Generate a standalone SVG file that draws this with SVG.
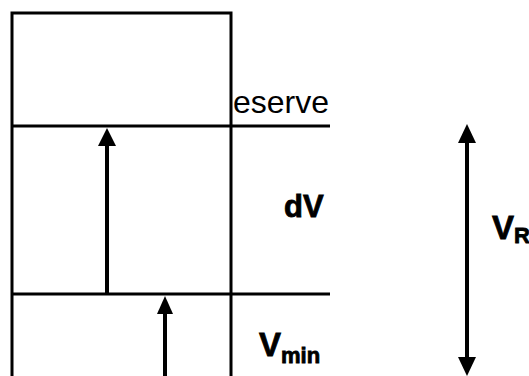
<svg xmlns="http://www.w3.org/2000/svg" width="529" height="376" viewBox="0 0 529 376">
<style>
.ln{stroke:#000;stroke-width:3;fill:none}
.sh{stroke:#000;stroke-width:4;fill:none}
.hd{fill:#000}
.lbl{font-family:"Liberation Sans",Arial,sans-serif;fill:#000}
.b{font-weight:bold;stroke:#000;stroke-width:0.8}
</style>
<rect width="529" height="376" fill="#fff"/>
<g id="box">
<path class="ln" d="M12,378 V13 H231 V378"/>
</g>
<g id="levels">
<line class="ln" x1="12" y1="126" x2="330" y2="126"/>
<line class="ln" x1="12" y1="294" x2="330" y2="294"/>
</g>
<g id="labels">
<text class="lbl" x="233" y="113" font-size="32" fill="#222">eserve</text>
<text class="lbl b" x="284" y="217" font-size="31">dV</text>
<text class="lbl b" x="259" y="356" font-size="33">V<tspan font-size="22" dy="7">min</tspan></text>
<text class="lbl b" x="492" y="239" font-size="33">V<tspan font-size="22" dy="4">R</tspan></text>
</g>
<g id="connectors">
<line class="sh" x1="107" y1="294" x2="107" y2="144"/>
<polygon class="hd" points="107,128 98,146 116,146"/>
<line class="sh" x1="165" y1="376" x2="165" y2="312"/>
<polygon class="hd" points="165,296 157,314 173,314"/>
<line class="sh" x1="467" y1="140" x2="467" y2="360"/>
<polygon class="hd" points="467,124 458,143 476,143"/>
<polygon class="hd" points="467,376 458,357 476,357"/>
</g>
</svg>
